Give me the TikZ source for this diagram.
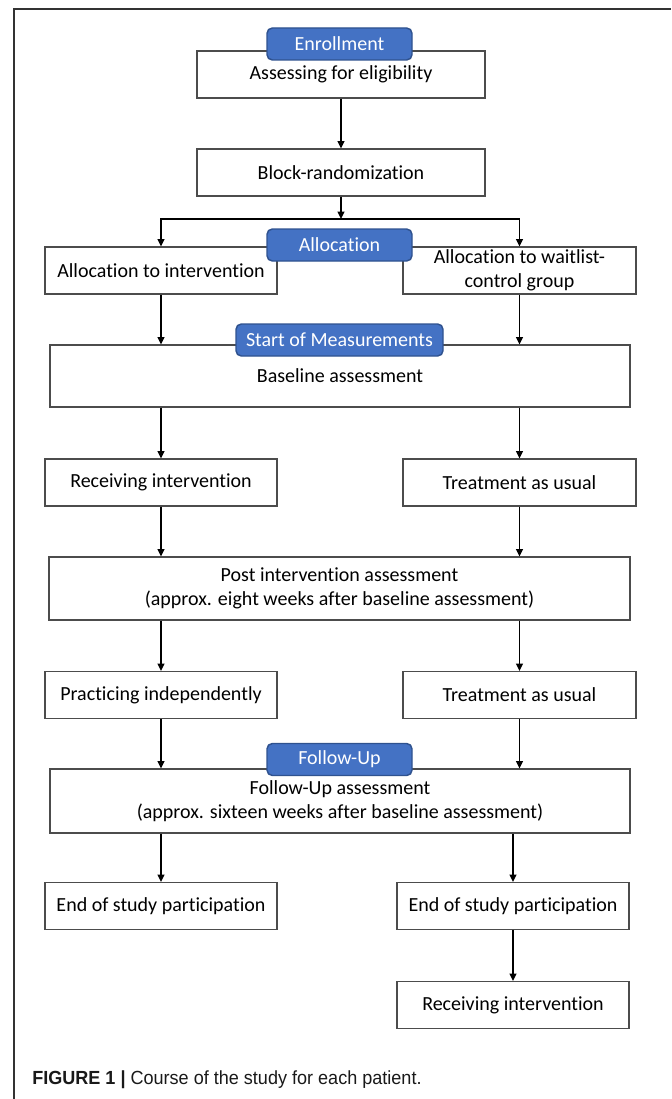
\documentclass[tikz,border=0pt]{standalone}
\usepackage{fontspec}
\setmainfont[Ligatures=NoCommon]{Carlito}
\newfontfamily\capfont[FakeStretch=0.95]{Liberation Sans}
\usetikzlibrary{arrows.meta}
\definecolor{tabblue}{HTML}{4472C4}
\definecolor{tabedge}{HTML}{2F528F}
\begin{document}
\begin{tikzpicture}[x=0.75pt,y=-0.75pt,
	box/.style={draw=black!70, line width=0.8pt, fill=white, align=center, inner sep=2pt, font=\fontsize{15}{18}\selectfont},
	tab/.style={draw=tabedge, line width=1.1pt, fill=tabblue, rounded corners=4pt, text=white, minimum height=24pt, font=\fontsize{15}{18}\selectfont},
	arr/.style={line width=1.4pt, -{Triangle[length=5.5pt,width=5pt]}}]
		\useasboundingbox (0,0) rectangle (671,1099);
		\draw[black!80, line width=1.1pt] (14,1099) |- (671,9);
		\node[box, minimum width=216pt, minimum height=35.25pt] (assess) at (341,74.5) {Assessing for eligibility};
		\node[box, minimum width=216pt, minimum height=35.25pt] (block) at (341,172.5) {Block-randomization};
		\node[box, minimum width=174pt, minimum height=35.25pt] (alloc1) at (161,270.5) {Allocation to intervention};
		\node[box, minimum width=174.75pt, minimum height=35.25pt] (alloc2) at (519.5,270.5) {Allocation to waitlist-\\control group};
		\node[box, minimum width=435pt, minimum height=46.5pt] (base) at (340,376) {Baseline assessment};
		\node[box, minimum width=174pt, minimum height=35.25pt] (recv1) at (161,482.5) {Receiving intervention};
		\node[box, minimum width=174.75pt, minimum height=35.25pt] (treat1) at (519.5,482.5) {Treatment as usual};
		\node[box, minimum width=435.75pt, minimum height=47.25pt] (post) at (339.5,588.5) {Post intervention assessment\\(approx. eight weeks after baseline assessment)};
		\node[box, minimum width=174pt, minimum height=35.25pt] (prac) at (161,695) {Practicing independently};
		\node[box, minimum width=174.75pt, minimum height=35.25pt] (treat2) at (519.5,695) {Treatment as usual};
		\node[box, minimum width=435pt, minimum height=48pt] (fu) at (340,801) {Follow-Up assessment\\(approx. sixteen weeks after baseline assessment)};
		\node[box, minimum width=174pt, minimum height=35.25pt] (end1) at (161,906) {End of study participation};
		\node[box, minimum width=174pt, minimum height=35.25pt] (end2) at (513,906) {End of study participation};
		\node[box, minimum width=174pt, minimum height=35.25pt] (recv2) at (513,1005) {Receiving intervention};
		\coordinate (split) at (341,219);
		\draw[arr] (assess) -- (block);
		\draw[arr] (block) -- (split);
		\draw[arr] (split) -| (alloc1);
		\draw[arr] (split) -| (alloc2);
		\draw[arr] (alloc1) -- (alloc1 |- base.north);
		\draw[arr] (alloc2) -- (alloc2 |- base.north);
		\draw[arr] (base.south -| recv1) -- (recv1);
		\draw[arr] (base.south -| treat1) -- (treat1);
		\draw[arr] (recv1) -- (recv1 |- post.north);
		\draw[arr] (treat1) -- (treat1 |- post.north);
		\draw[arr] (post.south -| prac) -- (prac);
		\draw[arr] (post.south -| treat2) -- (treat2);
		\draw[arr] (prac) -- (prac |- fu.north);
		\draw[arr] (treat2) -- (treat2 |- fu.north);
		\draw[arr] (fu.south -| end1) -- (end1);
		\draw[arr] (fu.south -| end2) -- (end2);
		\draw[arr] (end2) -- (recv2);
		\node[tab, minimum width=108.75pt] (enroll) at (339.5,44) {Enrollment};
		\node[tab, minimum width=108.75pt] (alloc) at (339.5,245) {Allocation};
		\node[tab, minimum width=155.25pt] (meas) at (339.5,340) {Start of Measurements};
		\node[tab, minimum width=108.75pt] (follow) at (339.5,759.5) {Follow-Up};
		\node[anchor=base west, inner sep=0pt, text=black!90, font=\capfont\fontsize{14.25}{17}\selectfont] (caption) at (32,1084) {\textbf{FIGURE 1 |} Course of the study for each patient.};
	\end{tikzpicture}
\end{document}
